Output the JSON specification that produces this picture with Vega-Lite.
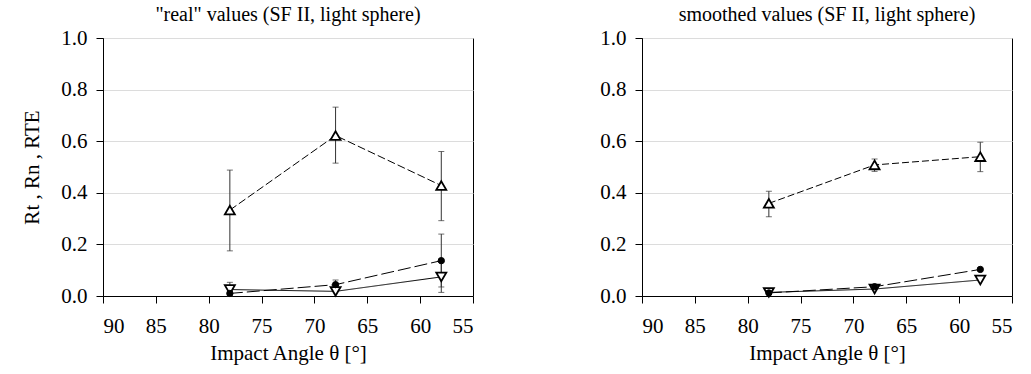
{
  "$schema": "https://vega.github.io/schema/vega-lite/v6.json",
  "background": "white",
  "padding": {"left": 21, "top": 4, "right": 5, "bottom": 5},
  "spacing": 125,
  "resolve": {"scale": {"shape": "independent", "fill": "independent", "strokeDash": "independent"}, "legend": {"shape": "independent", "fill": "independent"}},
  "datasets": {
    "real": [
      {"angle": 78, "series": "Rt", "value": 0.333, "lo": 0.175, "hi": 0.488},
      {"angle": 68, "series": "Rt", "value": 0.622, "lo": 0.515, "hi": 0.732},
      {"angle": 58, "series": "Rt", "value": 0.428, "lo": 0.292, "hi": 0.56},
      {"angle": 78, "series": "Rn", "value": 0.025, "lo": 0.0, "hi": 0.053},
      {"angle": 68, "series": "Rn", "value": 0.018},
      {"angle": 58, "series": "Rn", "value": 0.074, "lo": 0.014, "hi": 0.134},
      {"angle": 78, "series": "RTE", "value": 0.01},
      {"angle": 68, "series": "RTE", "value": 0.044, "lo": 0.026, "hi": 0.062},
      {"angle": 58, "series": "RTE", "value": 0.137, "lo": 0.035, "hi": 0.24}
    ],
    "smooth": [
      {"angle": 78, "series": "Rt", "value": 0.359, "lo": 0.307, "hi": 0.406},
      {"angle": 68, "series": "Rt", "value": 0.508, "lo": 0.483, "hi": 0.531},
      {"angle": 58, "series": "Rt", "value": 0.54, "lo": 0.482, "hi": 0.596},
      {"angle": 78, "series": "Rn", "value": 0.014},
      {"angle": 68, "series": "Rn", "value": 0.027},
      {"angle": 58, "series": "Rn", "value": 0.062},
      {"angle": 78, "series": "RTE", "value": 0.012},
      {"angle": 68, "series": "RTE", "value": 0.036},
      {"angle": 58, "series": "RTE", "value": 0.103}
    ]
  },
  "hconcat": [
    {
      "width": 370, "height": 258,
      "view": {"stroke": "black", "strokeWidth": 1},
      "title": {"text": "\"real\" values (SF II, light sphere)", "font": "Liberation Serif", "fontSize": 20, "fontWeight": "normal", "color": "black", "offset": 2},
      "data": {"name": "real"},
      "encoding": {
        "x": {"field": "angle", "type": "quantitative", "title": "Impact Angle θ [°]",
              "scale": {"domain": [55, 90], "reverse": true, "nice": false},
              "axis": {"values": [90, 85, 80, 75, 70, 65, 60, 55], "format": "d", "grid": false, "domainColor": "black", "tickColor": "black", "tickSize": 7, "labelFont": "Liberation Serif", "labelFontSize": 21, "labelColor": "black", "labelPadding": 12, "titleFont": "Liberation Serif", "titleFontSize": 21, "titleFontWeight": "normal", "titleColor": "black", "titlePadding": 6}}
      },
      "layer": [
        {"mark": {"type": "line", "color": "black", "strokeWidth": 1},
         "encoding": {
           "y": {"field": "value", "type": "quantitative", "title": "Rt , Rn , RTE",
                 "scale": {"domain": [0, 1], "nice": false},
                 "axis": {"values": [0, 0.2, 0.4, 0.6, 0.8, 1.0], "format": ".1f", "gridColor": "#dcdcdc", "gridWidth": 1.2, "domainColor": "black", "tickColor": "black", "tickSize": 7, "labelPadding": 9, "labelFont": "Liberation Serif", "labelFontSize": 21, "labelColor": "black", "titleFont": "Liberation Serif", "titleFontSize": 21, "titleFontWeight": "normal", "titleColor": "black", "titlePadding": 18}},
           "strokeDash": {"field": "series", "type": "nominal", "legend": null,
                          "scale": {"domain": ["Rt", "Rn", "RTE"], "range": [[8, 3], [1, 0], [13, 4]]}}
         }},
        {"transform": [{"filter": "isValid(datum.lo)"}],
         "mark": {"type": "rule", "color": "#333333", "strokeWidth": 1},
         "encoding": {"y": {"field": "lo", "type": "quantitative", "title": "Rt , Rn , RTE"}, "y2": {"field": "hi"}}},
        {"transform": [{"filter": "isValid(datum.lo)"}],
         "mark": {"type": "tick", "orient": "horizontal", "color": "#333333", "size": 6, "thickness": 1},
         "encoding": {"y": {"field": "lo", "type": "quantitative", "title": "Rt , Rn , RTE"}}},
        {"transform": [{"filter": "isValid(datum.hi)"}],
         "mark": {"type": "tick", "orient": "horizontal", "color": "#333333", "size": 6, "thickness": 1},
         "encoding": {"y": {"field": "hi", "type": "quantitative", "title": "Rt , Rn , RTE"}}},
        {"transform": [{"filter": "datum.series == 'Rt'"}],
         "mark": {"type": "point", "shape": "triangle-up", "size": 100, "filled": true, "fill": "white", "stroke": "black", "strokeWidth": 1.8, "opacity": 1},
         "encoding": {"y": {"field": "value", "type": "quantitative", "title": "Rt , Rn , RTE"}}},
        {"transform": [{"filter": "datum.series == 'Rn'"}],
         "mark": {"type": "point", "shape": "triangle-down", "size": 100, "filled": true, "fill": "white", "stroke": "black", "strokeWidth": 1.8, "opacity": 1},
         "encoding": {"y": {"field": "value", "type": "quantitative", "title": "Rt , Rn , RTE"}}},
        {"transform": [{"filter": "datum.series == 'RTE'"}],
         "mark": {"type": "point", "shape": "circle", "size": 40, "filled": true, "fill": "black", "stroke": "black", "strokeWidth": 1, "opacity": 1},
         "encoding": {"y": {"field": "value", "type": "quantitative", "title": "Rt , Rn , RTE"}}},
        {"mark": {"type": "point", "size": 324, "opacity": 0, "filled": true, "stroke": "black"},
         "encoding": {
           "y": {"field": "value", "type": "quantitative", "title": "Rt , Rn , RTE"},
           "shape": {"field": "series", "type": "nominal",
                     "scale": {"domain": ["Rt", "Rn", "RTE"], "range": [
                       "M-1.45,0H-0.5M0.5,0H1.45M0,-0.42L0.47,0.38L-0.47,0.38Z",
                       "M-1.45,0H-0.5M0.5,0H1.45M0,0.42L0.47,-0.38L-0.47,-0.38Z",
                       "M-1.45,0H-0.35M0.35,0H1.45M0.32,0A0.32,0.32,0,1,1,-0.32,0A0.32,0.32,0,1,1,0.32,0Z"]},
                     "legend": {"orient": "top-left", "offset": 8, "title": null, "strokeColor": "black", "fillColor": "white", "padding": 12,
                                "labelFont": "Liberation Serif", "labelFontSize": 14, "labelColor": "black", "rowPadding": 0.5,
                                "symbolSize": 324, "labelOffset": 22, "symbolStrokeWidth": 1.6, "symbolStrokeColor": "black",
                                "labelExpr": "datum.label == 'Rt' ? 'Rₜ' : datum.label == 'Rn' ? 'Rₙ' : 'RTE'"}},
           "fill": {"field": "series", "type": "nominal",
                    "scale": {"domain": ["Rt", "Rn", "RTE"], "range": ["white", "white", "black"]},
                    "legend": {"orient": "top-left", "offset": 8, "title": null, "strokeColor": "black", "fillColor": "white", "padding": 12,
                                "labelFont": "Liberation Serif", "labelFontSize": 14, "labelColor": "black", "rowPadding": 0.5,
                                "symbolSize": 324, "labelOffset": 22, "symbolStrokeWidth": 1.6, "symbolStrokeColor": "black",
                                "labelExpr": "datum.label == 'Rt' ? 'Rₜ' : datum.label == 'Rn' ? 'Rₙ' : 'RTE'"}}
         }}
      ]
    },
    {
      "width": 370, "height": 258,
      "view": {"stroke": "black", "strokeWidth": 1},
      "title": {"text": "smoothed values (SF II, light sphere)", "font": "Liberation Serif", "fontSize": 20, "fontWeight": "normal", "color": "black", "offset": 2},
      "data": {"name": "smooth"},
      "encoding": {
        "x": {"field": "angle", "type": "quantitative", "title": "Impact Angle θ [°]",
              "scale": {"domain": [55, 90], "reverse": true, "nice": false},
              "axis": {"values": [90, 85, 80, 75, 70, 65, 60, 55], "format": "d", "grid": false, "domainColor": "black", "tickColor": "black", "tickSize": 7, "labelFont": "Liberation Serif", "labelFontSize": 21, "labelColor": "black", "labelPadding": 12, "titleFont": "Liberation Serif", "titleFontSize": 21, "titleFontWeight": "normal", "titleColor": "black", "titlePadding": 6}}
      },
      "layer": [
        {"mark": {"type": "line", "color": "black", "strokeWidth": 1},
         "encoding": {
           "y": {"field": "value", "type": "quantitative", "title": null,
                 "scale": {"domain": [0, 1], "nice": false},
                 "axis": {"values": [0, 0.2, 0.4, 0.6, 0.8, 1.0], "format": ".1f", "gridColor": "#dcdcdc", "gridWidth": 1.2, "domainColor": "black", "tickColor": "black", "tickSize": 7, "labelPadding": 9, "labelFont": "Liberation Serif", "labelFontSize": 21, "labelColor": "black"}},
           "strokeDash": {"field": "series", "type": "nominal", "legend": null,
                          "scale": {"domain": ["Rt", "Rn", "RTE"], "range": [[7, 3], [1, 0], [13, 4]]}}
         }},
        {"transform": [{"filter": "isValid(datum.lo)"}],
         "mark": {"type": "rule", "color": "#333333", "strokeWidth": 1},
         "encoding": {"y": {"field": "lo", "type": "quantitative", "title": null}, "y2": {"field": "hi"}}},
        {"transform": [{"filter": "isValid(datum.lo)"}],
         "mark": {"type": "tick", "orient": "horizontal", "color": "#333333", "size": 6, "thickness": 1},
         "encoding": {"y": {"field": "lo", "type": "quantitative", "title": null}}},
        {"transform": [{"filter": "isValid(datum.hi)"}],
         "mark": {"type": "tick", "orient": "horizontal", "color": "#333333", "size": 6, "thickness": 1},
         "encoding": {"y": {"field": "hi", "type": "quantitative", "title": null}}},
        {"transform": [{"filter": "datum.series == 'Rt'"}],
         "mark": {"type": "point", "shape": "triangle-up", "size": 100, "filled": true, "fill": "white", "stroke": "black", "strokeWidth": 1.8, "opacity": 1},
         "encoding": {"y": {"field": "value", "type": "quantitative", "title": null}}},
        {"transform": [{"filter": "datum.series == 'Rn'"}],
         "mark": {"type": "point", "shape": "triangle-down", "size": 100, "filled": true, "fill": "white", "stroke": "black", "strokeWidth": 1.8, "opacity": 1},
         "encoding": {"y": {"field": "value", "type": "quantitative", "title": null}}},
        {"transform": [{"filter": "datum.series == 'RTE'"}],
         "mark": {"type": "point", "shape": "circle", "size": 40, "filled": true, "fill": "black", "stroke": "black", "strokeWidth": 1, "opacity": 1},
         "encoding": {"y": {"field": "value", "type": "quantitative", "title": null}}},
        {"mark": {"type": "point", "size": 324, "opacity": 0, "filled": true, "stroke": "black"},
         "encoding": {
           "y": {"field": "value", "type": "quantitative", "title": null},
           "shape": {"field": "series", "type": "nominal",
                     "scale": {"domain": ["Rt", "Rn", "RTE"], "range": [
                       "M-1.45,0H-0.5M0.5,0H1.45M0,-0.42L0.47,0.38L-0.47,0.38Z",
                       "M-1.45,0H-0.5M0.5,0H1.45M0,0.42L0.47,-0.38L-0.47,-0.38Z",
                       "M-1.45,0H-0.35M0.35,0H1.45M0.32,0A0.32,0.32,0,1,1,-0.32,0A0.32,0.32,0,1,1,0.32,0Z"]},
                     "legend": {"orient": "top-left", "offset": 8, "title": null, "strokeColor": "black", "fillColor": "white", "padding": 12,
                                "labelFont": "Liberation Serif", "labelFontSize": 14, "labelColor": "black", "rowPadding": 0.5,
                                "symbolSize": 324, "labelOffset": 22, "symbolStrokeWidth": 1.6, "symbolStrokeColor": "black",
                                "labelExpr": "datum.label == 'Rt' ? 'Rₜ' : datum.label == 'Rn' ? 'Rₙ' : 'RTE'"}},
           "fill": {"field": "series", "type": "nominal",
                    "scale": {"domain": ["Rt", "Rn", "RTE"], "range": ["white", "white", "black"]},
                    "legend": {"orient": "top-left", "offset": 8, "title": null, "strokeColor": "black", "fillColor": "white", "padding": 12,
                                "labelFont": "Liberation Serif", "labelFontSize": 14, "labelColor": "black", "rowPadding": 0.5,
                                "symbolSize": 324, "labelOffset": 22, "symbolStrokeWidth": 1.6, "symbolStrokeColor": "black",
                                "labelExpr": "datum.label == 'Rt' ? 'Rₜ' : datum.label == 'Rn' ? 'Rₙ' : 'RTE'"}}
         }}
      ]
    }
  ]
}
